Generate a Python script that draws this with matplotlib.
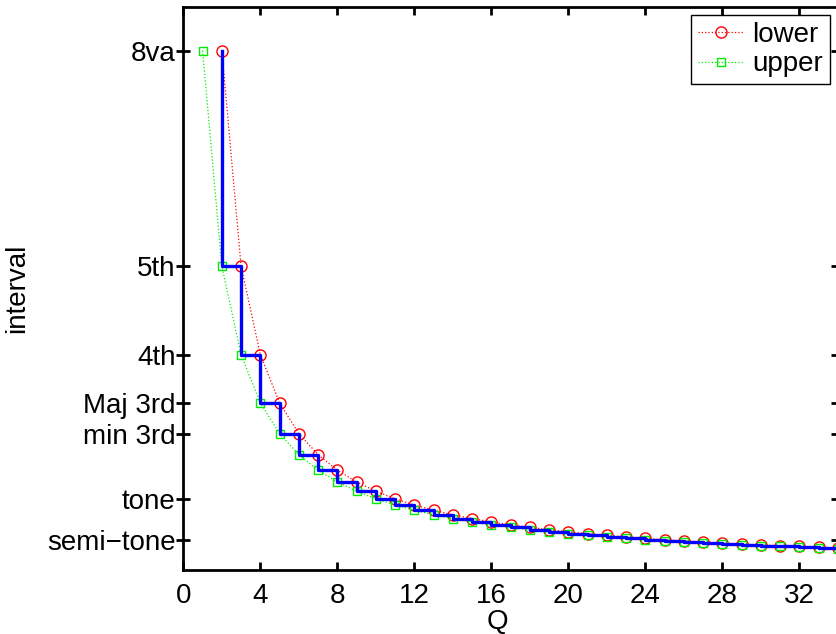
import numpy as np
import matplotlib
matplotlib.use('Agg')
import matplotlib.pyplot as plt

plt.rcParams['font.family'] = ['Liberation Sans', 'DejaVu Sans']

# Q values and the interval ratios
q_lower = list(range(2, 35))
lower = [2/1, 3/2, 4/3, 5/4, 6/5, 7/6, 8/7, 9/8, 10/9, 11/10, 12/11, 13/12,
         14/13, 15/14, 16/15, 17/16, 18/17, 19/18, 20/19, 21/20, 22/21, 23/22,
         24/23, 25/24, 26/25, 27/26, 28/27, 29/28, 30/29, 31/30, 32/31, 33/32,
         34/33]
q_upper = list(range(1, 35))
upper = [2/1, 3/2, 4/3, 5/4, 6/5, 7/6, 8/7, 9/8, 10/9, 11/10, 12/11, 13/12,
         14/13, 15/14, 16/15, 17/16, 18/17, 19/18, 20/19, 21/20, 22/21, 23/22,
         24/23, 25/24, 26/25, 27/26, 28/27, 29/28, 30/29, 31/30, 32/31, 33/32,
         34/33, 35/34]

# interval tick marks
ytick_vals = [25/24, 11/10, 6/5, 5/4, 4/3, 3/2, 2/1]
ytick_labels = ['semi\u2212tone', 'tone', 'min 3rd', 'Maj 3rd', '4th', '5th', '8va']
xticks = [0, 4, 8, 12, 16, 20, 24, 28, 32]

FS = 20

fig = plt.figure(figsize=(8.36, 6.34), dpi=100)
ax = fig.add_axes([0.2193, 0.1005, 0.783, 0.888])

ax.plot(q_lower, lower, ':o', color='red', mfc='none', mec='red',
        markersize=8, lw=0.9, mew=1.0, label='lower')
ax.plot(q_upper, upper, ':s', color='#00ee00', mfc='none', mec='#00ee00',
        markersize=6, lw=0.9, mew=1.0, label='upper')
ax.step(q_lower, lower, where='pre', color='blue', lw=2.4)

ax.set_yscale('log', base=2)
ax.set_ylim(1, 2 ** (13 / 12))
ax.set_xlim(0, 34)
ax.set_yticks(ytick_vals)
ax.set_yticklabels(ytick_labels)
ax.yaxis.set_minor_locator(matplotlib.ticker.NullLocator())
ax.set_xticks(xticks)

ax.tick_params(axis='y', which='major', direction='inout', length=10, width=2,
               labelsize=FS, right=True, pad=0.5)
ax.tick_params(axis='x', which='major', direction='in', length=6, width=2,
               labelsize=FS, top=True, pad=9)
for s in ax.spines.values():
    s.set_linewidth(2)

ax.set_xlabel('Q', fontsize=FS, labelpad=1)
ax.xaxis.set_label_coords(0.48, -0.068)
ax.set_ylabel('interval', fontsize=FS, labelpad=12)

leg = ax.legend(loc='upper right', fontsize=FS, fancybox=False, framealpha=1,
                edgecolor='black', handlelength=1.6, borderpad=0.25,
                labelspacing=0.12, handletextpad=0.35, borderaxespad=0.28)
leg.get_frame().set_linewidth(1)

fig.savefig('out.png', dpi=100)
